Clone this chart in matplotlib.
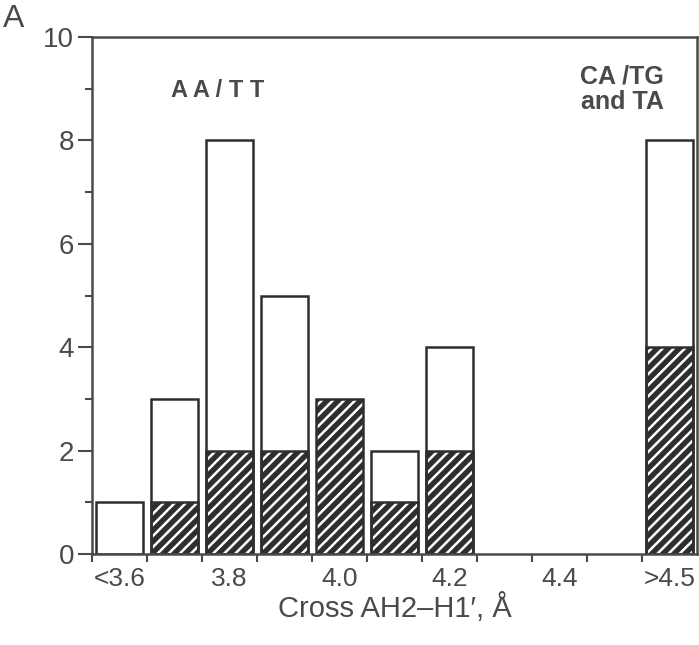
import matplotlib
matplotlib.use("Agg")
import matplotlib.pyplot as plt
import numpy as np

plt.rcParams['font.family'] = ['Liberation Sans', 'DejaVu Sans']
plt.rcParams['hatch.linewidth'] = 1.8

# Data
slots = ['<3.6', '3.7', '3.8', '3.9', '4.0', '4.1', '4.2', '4.3', '4.4', '4.5', '>4.5']
total = [1, 3, 8, 5, 3, 2, 4, 0, 0, 0, 8]
hatched = [0, 1, 2, 2, 3, 1, 2, 0, 0, 0, 4]
label_slots = [0, 2, 4, 6, 8, 10]
tick_labels = ['<3.6', '3.8', '4.0', '4.2', '4.4', '>4.5']

axcol = '#4a4a4a'
barcol = '#2e2e2e'

fig = plt.figure(figsize=(6.99, 6.45), dpi=100)
ax = fig.add_axes([92/699, 1-554/645, (697-92)/699, (554-37)/645])

x = np.arange(len(slots)) + 0.5
w = 0.87
for xi, t, h in zip(x, total, hatched):
    if t <= 0:
        continue
    if h > 0:
        ax.bar(xi, h, width=w, color=barcol, edgecolor='white', hatch='///', linewidth=0)
    ax.bar(xi, t, width=w, fill=False, edgecolor=barcol, linewidth=1.8)
    if h > 0 and h < t:
        ax.bar(xi, h, width=w, fill=False, edgecolor=barcol, linewidth=1.8)

ax.set_xlim(0, len(slots))
ax.set_ylim(0, 10)

ax.set_xticks(np.arange(0, len(slots)))
ax.set_xticklabels([])
ax.set_xticks([s + 0.5 for s in label_slots], minor=True)
ax.set_xticklabels(tick_labels, minor=True)
ax.tick_params(axis='x', which='major', direction='out', length=6, width=1.5, color=axcol)
ax.tick_params(axis='x', which='minor', length=0, pad=9, labelsize=19, labelcolor=axcol)

ax.set_yticks([0, 2, 4, 6, 8, 10])
ax.set_yticks([1, 3, 5, 7, 9], minor=True)
ax.tick_params(axis='y', which='major', direction='out', length=10, width=1.5, color=axcol,
               labelsize=20, labelcolor=axcol, pad=3)
ax.tick_params(axis='y', which='minor', direction='out', length=5, width=1.5, color=axcol)

for s in ax.spines.values():
    s.set_color(axcol)
    s.set_linewidth(1.8)

ax.set_xlabel('Cross AH2\u2013H1\u2032, \u00c5', fontsize=21, color=axcol, labelpad=2)

ax.text(0.208, 0.897, 'A A / T T', transform=ax.transAxes, fontsize=17, fontweight='bold',
        color=axcol, ha='center', va='center')
ax.text(0.876, 0.899, 'CA /TG\nand TA', transform=ax.transAxes, fontsize=18, fontweight='bold',
        color=axcol, ha='center', va='center', linespacing=1.1)

fig.text(3/699, 1-19/645, 'A', fontsize=23, color=axcol, ha='left', va='center')

fig.savefig('out.png', dpi=100, facecolor='white')
